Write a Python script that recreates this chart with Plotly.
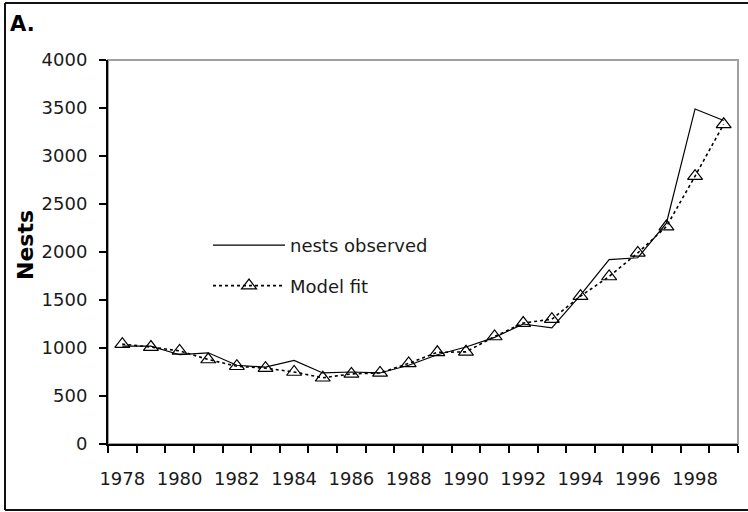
import plotly.graph_objects as go

years = list(range(1978, 2000))
nests_observed = [1020, 1020, 930, 950, 820, 800, 870, 740, 750, 740, 820,
                  930, 1010, 1110, 1250, 1210, 1550, 1920, 1940, 2300, 3490, 3370]
model_fit = [1040, 1010, 970, 880, 810, 790, 750, 690, 730, 740, 840,
             955, 960, 1120, 1260, 1300, 1540, 1745, 1990, 2265, 2790, 3330]
y_ticks = list(range(0, 4001, 500))
x_tick_labels = [str(y) for y in range(1978, 1999, 2)]

fig = go.Figure()
fig.add_trace(go.Scatter(
    x=years, y=nests_observed, mode="lines", name="nests observed",
    line=dict(color="#000000", width=1.2), legendgroup="a"))
fig.add_trace(go.Scatter(
    x=years, y=model_fit, mode="lines+markers", name="Model fit",
    line=dict(color="#000000", width=1.6, dash="dot"),
    marker=dict(symbol="triangle-up-open", size=13, color="#000000",
                line=dict(width=1.2, color="#000000")),
    legendgroup="b"))

L, R, T, B = 108, 10, 60, 68
W, H = 748, 512
pw, ph = W - L - R, H - T - B

def px(x):
    return (x - L) / pw

def py(y):
    return (H - B - y) / ph

fig.update_layout(
    width=W, height=H,
    margin=dict(l=L, r=R, t=T, b=B),
    paper_bgcolor="white", plot_bgcolor="white",
    font=dict(family="DejaVu Sans", size=18, color="#1a1a1a"),
    showlegend=True,
    legend=dict(x=px(208), y=py(227), xanchor="left", yanchor="top",
                bgcolor="rgba(0,0,0,0)", font=dict(size=18, color="#1a1a1a"),
                traceorder="grouped", tracegroupgap=14, itemwidth=72),
    xaxis=dict(
        range=[1977.5, 1999.5], tickmode="array",
        tickvals=list(range(1978, 1999, 2)), ticktext=x_tick_labels,
        ticks="", showgrid=False, zeroline=False,
        showline=True, linecolor="#000000", linewidth=2,
        ticklabelstandoff=17,
        minor=dict(tick0=1977.5, dtick=1, ticks="outside", ticklen=7,
                   tickwidth=1.5, tickcolor="#000000", showgrid=False),
    ),
    yaxis=dict(
        range=[0, 4000], tickmode="array", tickvals=y_ticks,
        ticks="outside", ticklen=7, tickwidth=1.5, tickcolor="#000000",
        showgrid=False, zeroline=False,
        showline=True, linecolor="#000000", linewidth=2,
        ticklabelstandoff=8,
    ),
    shapes=[
        dict(type="rect", xref="paper", yref="paper", x0=0, y0=0, x1=1, y1=1,
             line=dict(color="#a0a0a0", width=2), layer="below"),
        dict(type="line", xref="paper", yref="paper",
             x0=px(5), y0=py(3), x1=px(748), y1=py(3),
             line=dict(color="#111111", width=2)),
        dict(type="line", xref="paper", yref="paper",
             x0=px(5), y0=py(510), x1=px(748), y1=py(510),
             line=dict(color="#111111", width=2)),
        dict(type="line", xref="paper", yref="paper",
             x0=px(5), y0=py(3), x1=px(5), y1=py(510),
             line=dict(color="#111111", width=2)),
    ],
    annotations=[
        dict(text="<b>A.</b>", xref="paper", yref="paper", x=px(8), y=py(24),
             xanchor="left", yanchor="middle", showarrow=False,
             font=dict(family="DejaVu Sans", size=21, color="#000000")),
        dict(text="<b>Nests</b>", xref="paper", yref="paper", x=px(25), y=py(245),
             xanchor="center", yanchor="middle", showarrow=False, textangle=-90,
             font=dict(family="DejaVu Sans", size=22, color="#000000")),
    ],
)

fig.write_html(
    "out.html", config={"displayModeBar": False},
    post_script=("document.body.style.margin='0px';"
                 "document.body.style.overflow='hidden';"
                 "document.documentElement.style.overflow='hidden';"))
